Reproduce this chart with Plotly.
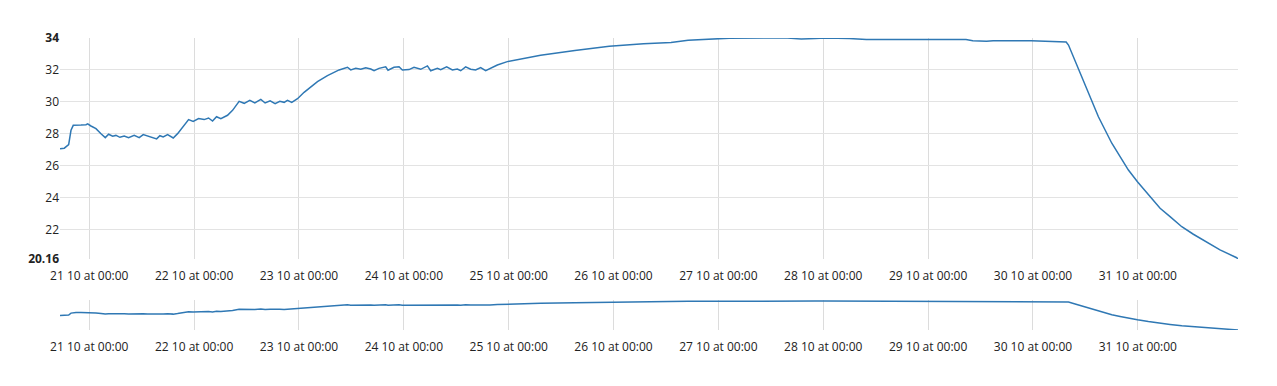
import plotly.graph_objects as go

times = [
    "2023-10-20 17:18", "2023-10-20 18:17", "2023-10-20 19:17", "2023-10-20 19:49", "2023-10-20 20:20",
    "2023-10-20 20:58", "2023-10-20 22:06", "2023-10-20 23:15", "2023-10-20 23:38", "2023-10-21 00:23",
    "2023-10-21 01:32", "2023-10-21 02:41", "2023-10-21 03:40", "2023-10-21 04:26", "2023-10-21 05:21",
    "2023-10-21 06:06", "2023-10-21 07:01", "2023-10-21 08:00", "2023-10-21 09:00", "2023-10-21 10:17",
    "2023-10-21 11:26", "2023-10-21 12:21", "2023-10-21 13:21", "2023-10-21 14:30", "2023-10-21 15:25",
    "2023-10-21 16:10", "2023-10-21 16:55", "2023-10-21 17:56", "2023-10-21 19:13", "2023-10-21 20:13",
    "2023-10-21 21:22", "2023-10-21 22:44", "2023-10-21 23:47", "2023-10-22 01:01", "2023-10-22 02:18",
    "2023-10-22 03:18", "2023-10-22 04:13", "2023-10-22 05:08", "2023-10-22 06:07", "2023-10-22 07:39",
    "2023-10-22 08:48", "2023-10-22 10:18", "2023-10-22 11:27", "2023-10-22 12:45", "2023-10-22 13:54",
    "2023-10-22 15:16", "2023-10-22 16:15", "2023-10-22 17:24", "2023-10-22 18:32", "2023-10-22 19:37",
    "2023-10-22 20:36", "2023-10-22 21:22", "2023-10-22 22:21", "2023-10-22 23:40", "2023-10-23 01:10",
    "2023-10-23 04:14", "2023-10-23 06:31", "2023-10-23 09:11", "2023-10-23 11:06", "2023-10-23 11:51",
    "2023-10-23 13:00", "2023-10-23 14:08", "2023-10-23 15:17", "2023-10-23 16:26", "2023-10-23 17:11",
    "2023-10-23 18:19", "2023-10-23 19:51", "2023-10-23 20:23", "2023-10-23 21:45", "2023-10-23 22:54",
    "2023-10-23 23:40", "2023-10-24 01:11", "2023-10-24 02:20", "2023-10-24 03:52", "2023-10-24 05:24",
    "2023-10-24 06:09", "2023-10-24 07:41", "2023-10-24 08:26", "2023-10-24 09:48", "2023-10-24 11:07",
    "2023-10-24 12:15", "2023-10-24 13:01", "2023-10-24 14:09", "2023-10-24 15:18", "2023-10-24 16:26",
    "2023-10-24 17:35", "2023-10-24 18:44", "2023-10-24 19:43", "2023-10-24 21:24", "2023-10-24 23:41",
    "2023-10-25 03:29", "2023-10-25 07:18", "2023-10-25 15:09", "2023-10-25 23:01", "2023-10-26 06:52",
    "2023-10-26 13:09", "2023-10-26 17:04", "2023-10-26 22:34", "2023-10-27 02:29", "2023-10-27 15:50",
    "2023-10-27 18:58", "2023-10-27 22:06", "2023-10-28 00:29", "2023-10-28 05:58", "2023-10-28 09:52",
    "2023-10-29 08:40", "2023-10-29 10:14", "2023-10-29 13:22", "2023-10-29 14:54", "2023-10-29 23:36",
    "2023-10-30 05:05", "2023-10-30 07:36", "2023-10-30 08:08", "2023-10-30 09:16", "2023-10-30 10:25",
    "2023-10-30 11:34", "2023-10-30 12:42", "2023-10-30 13:50", "2023-10-30 14:59", "2023-10-30 16:31",
    "2023-10-30 18:03", "2023-10-30 19:57", "2023-10-30 21:51", "2023-10-30 23:55", "2023-10-31 02:25",
    "2023-10-31 05:06", "2023-10-31 07:23", "2023-10-31 10:04", "2023-10-31 12:43", "2023-10-31 15:47",
    "2023-10-31 18:49", "2023-10-31 22:38", "2023-10-31 22:56",
]

values = [
    27.07, 27.10, 27.32, 28.22, 28.53,
    28.55, 28.55, 28.57, 28.62, 28.49,
    28.32, 28.00, 27.76, 27.97, 27.85,
    27.90, 27.78, 27.86, 27.76, 27.90,
    27.76, 27.95, 27.85, 27.76, 27.68,
    27.88, 27.80, 27.95, 27.74, 28.01,
    28.43, 28.89, 28.78, 28.95, 28.89,
    28.99, 28.80, 29.07, 28.95, 29.16,
    29.47, 30.03, 29.91, 30.10, 29.93,
    30.16, 29.93, 30.06, 29.89, 30.03,
    29.97, 30.10, 29.97, 30.20, 30.60,
    31.27, 31.64, 32.00, 32.17, 32.00,
    32.10, 32.04, 32.14, 32.06, 31.95,
    32.10, 32.20, 31.98, 32.17, 32.20,
    32.00, 32.02, 32.17, 32.04, 32.25,
    31.95, 32.10, 32.02, 32.19, 32.00,
    32.06, 31.95, 32.19, 32.04, 32.00,
    32.15, 31.95, 32.10, 32.31, 32.52,
    32.73, 32.92, 33.21, 33.49, 33.64,
    33.72, 33.86, 33.92, 33.99, 34.00,
    33.93, 33.97, 34.00, 33.97, 33.90,
    33.90, 33.83, 33.80, 33.83, 33.83,
    33.80, 33.75, 33.56, 32.83, 32.10,
    31.27, 30.54, 29.91, 29.07, 28.24,
    27.41, 26.57, 25.73, 25.00, 24.17,
    23.34, 22.81, 22.18, 21.71, 21.21,
    20.73, 20.24, 20.16,
]

x_ticks = ["2023-10-%02d 00:00" % d for d in range(21, 32)]
y_ticks = [20.16, 22, 24, 26, 28, 30, 32, 34]
y_tick_text = ["<b>20.16</b>", "22", "24", "26", "28", "30", "32", "<b>34</b>"]

y_min, y_max = min(values), max(values)
line_color = "#2f78b4"
font = dict(family="Open Sans", size=12, color="#222")

fig = go.Figure()
fig.add_trace(go.Scatter(x=times, y=values, mode="lines", xaxis="x", yaxis="y",
                         line=dict(color=line_color, width=1.5), hoverinfo="skip"))
fig.add_trace(go.Scatter(x=times, y=values, mode="lines", xaxis="x2", yaxis="y2",
                         line=dict(color=line_color, width=1.5), hoverinfo="skip"))

xcommon = dict(type="date", range=[times[0], times[-1]], tickvals=x_ticks,
               tickformat="%d %m at %H:%M", showgrid=True, gridcolor="#dcdcdc",
               gridwidth=1, zeroline=False, showline=False, ticks="",
               ticklabelstandoff=8, tickfont=font)

fig.update_layout(
    width=1277, height=386,
    margin=dict(l=60, r=39, t=38, b=56),
    paper_bgcolor="white", plot_bgcolor="white",
    showlegend=False,
    font=font,
    xaxis=dict(domain=[0, 1], anchor="y", **xcommon),
    yaxis=dict(domain=[0.2432, 1], anchor="x", range=[y_min, y_max],
               tickvals=y_ticks, ticktext=y_tick_text, showgrid=True,
               gridcolor="#e3e3e3", zeroline=False, showline=False, ticks="",
               tickfont=font),
    xaxis2=dict(domain=[0, 1], anchor="y2", **xcommon),
    yaxis2=dict(domain=[0, 0.1027], anchor="x2", range=[y_min, y_max + 0.48],
                showgrid=False, showticklabels=False, zeroline=False,
                showline=False, ticks=""),
)

fig.write_html("out.html", config={"displayModeBar": False},
               post_script="document.body.style.margin='0';document.body.style.padding='0';")
